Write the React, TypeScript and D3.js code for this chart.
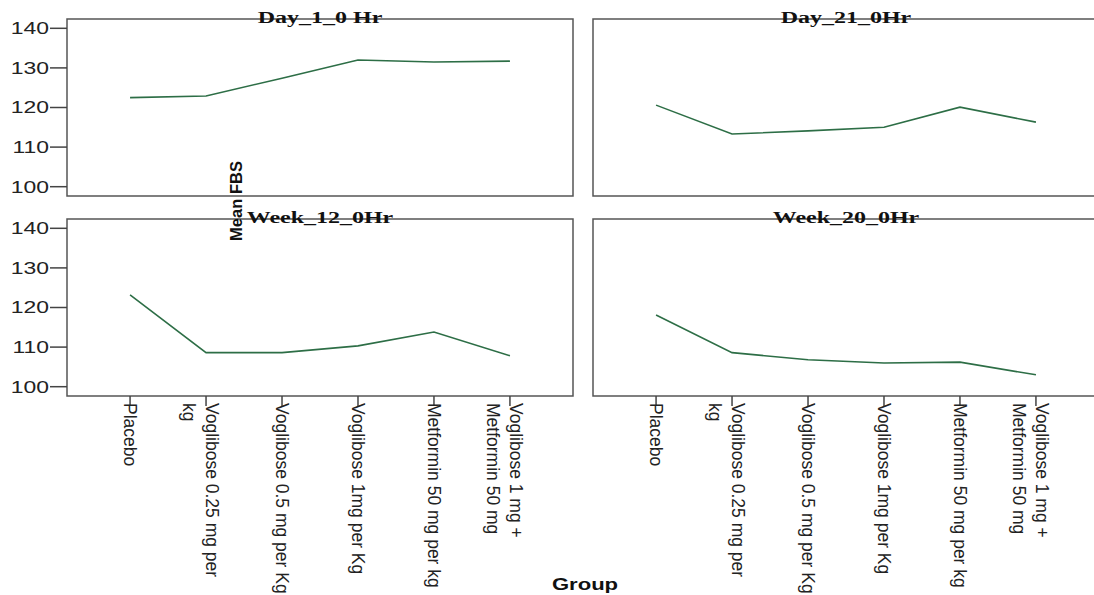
import * as d3 from "d3";
import { useEffect, useRef } from "react";

// categories on the x axis
const groups = [
  "Placebo",
  "Voglibose 0.25 mg per kg",
  "Voglibose 0.5 mg per Kg",
  "Voglibose 1mg per Kg",
  "Metformin 50 mg per kg",
  "Voglibose 1 mg + Metformin 50 mg",
];

// tick labels as they wrap in the picture
const groupLabels = [
  ["Placebo"],
  ["Voglibose 0.25 mg per", "kg"],
  ["Voglibose 0.5 mg per Kg"],
  ["Voglibose 1mg per Kg"],
  ["Metformin 50 mg per kg"],
  ["Voglibose 1 mg +", "Metformin 50 mg"],
];

const panelTitles = ["Day_1_0 Hr", "Day_21_0Hr", "Week_12_0Hr", "Week_20_0Hr"];

// mean FBS per group
const day1 = [122.5, 122.9, 127.4, 132.0, 131.5, 131.7];
const day21 = [120.6, 113.3, 114.1, 115.0, 120.1, 116.3];
const week12 = [123.2, 108.6, 108.6, 110.3, 113.8, 107.8];
const week20 = [118.1, 108.6, 106.8, 106.0, 106.2, 103.0];

const yTicks = [100, 110, 120, 130, 140];

const App = () => {
  const svgRef = useRef<SVGSVGElement>(null);

  useEffect(() => {
    document.body.style.margin = "0";
    const width = 1094;
    const height = 595;
    const panelW = 506;
    const panelH = 177;
    const colX = [67, 593];
    const rowY = [19, 219];
    const lineColor = "#2d6e46";
    const sans = "'Liberation Sans', Arial, sans-serif";
    const serif = "'Liberation Serif', 'Times New Roman', serif";

    const series = [day1, day21, week12, week20];

    const svg = d3
      .select(svgRef.current)
      .attr("width", width)
      .attr("height", height)
      .style("display", "block")
      .style("background", "#fff");
    svg.selectAll("*").remove();

    const x = d3.scalePoint<string>().domain(groups).range([0, panelW]).padding(0.83);
    const y = d3.scaleLinear().domain([97.65, 142.35]).range([panelH, 0]);

    const line = d3
      .line<number>()
      .x((_, i) => x(groups[i]) as number)
      .y((d) => y(d));

    series.forEach((values, k) => {
      const col = k % 2;
      const row = Math.floor(k / 2);
      const g = svg.append("g").attr("transform", `translate(${colX[col]},${rowY[row]})`);

      // frame
      g.append("rect")
        .attr("width", panelW)
        .attr("height", panelH)
        .attr("fill", "none")
        .attr("stroke", "#555")
        .attr("stroke-width", 1.5);

      // y axis on the left column only
      if (col === 0) {
        const yt = g.selectAll(".yt").data(yTicks).join("g").attr("transform", (d) => `translate(0,${y(d)})`);
        yt.append("line").attr("x1", -17).attr("x2", 0).attr("stroke", "#444").attr("stroke-width", 1.5);
        yt.append("text")
          .attr("transform", "translate(-18,0) scale(1.35,1)")
          .attr("text-anchor", "end")
          .attr("dominant-baseline", "central")
          .style("font-family", sans)
          .style("font-size", "17px")
          .style("fill", "#222")
          .text((d) => d);
      }

      // x axis on the bottom row only
      if (row === 1) {
        const xt = g
          .selectAll(".xt")
          .data(groups)
          .join("g")
          .attr("transform", (d) => `translate(${x(d)},${panelH})`);
        xt.append("line").attr("y1", 0).attr("y2", 10).attr("stroke", "#444").attr("stroke-width", 1.5);
        xt.each(function (_, i) {
          const lines = groupLabels[i];
          const t = d3
            .select(this)
            .append("text")
            .attr("transform", "translate(0,7) rotate(90)")
            .attr("text-anchor", "start")
            .style("font-family", sans)
            .style("font-size", "17.5px")
            .style("fill", "#222");
          lines.forEach((s, j) => {
            const off = lines.length > 1 ? -6 + j * 23 : 0;
            t.append("tspan").attr("x", 0).attr("y", off).attr("dominant-baseline", "central").text(s);
          });
        });
      }

      g.append("path")
        .datum(values)
        .attr("d", line)
        .attr("fill", "none")
        .attr("stroke", lineColor)
        .attr("stroke-width", 1.6);

      // panel title sits on the top border
      g.append("text")
        .attr("transform", `translate(${panelW / 2},3.5) scale(1.5,1)`)
        .attr("text-anchor", "middle")
        .style("font-family", serif)
        .style("font-weight", "bold")
        .style("font-size", "16px")
        .style("fill", "#111")
        .text(panelTitles[k]);
    });

    // axis titles
    svg
      .append("text")
      .attr("transform", "translate(236,201) rotate(-90)")
      .attr("text-anchor", "middle")
      .attr("dominant-baseline", "central")
      .style("font-family", sans)
      .style("font-weight", "bold")
      .style("font-size", "16.5px")
      .style("fill", "#111")
      .text("Mean FBS");

    svg
      .append("text")
      .attr("transform", "translate(585,590) scale(1.38,1)")
      .attr("text-anchor", "middle")
      .style("font-family", sans)
      .style("font-weight", "bold")
      .style("font-size", "16px")
      .style("fill", "#111")
      .text("Group");
  }, []);

  return <svg ref={svgRef}></svg>;
};

export default App;
